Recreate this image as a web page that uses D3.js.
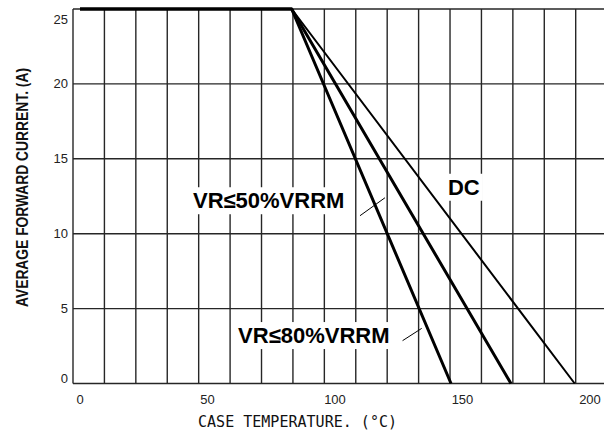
<!DOCTYPE html>
<html lang="en">
<head>
  <meta charset="UTF-8">
  <title>Derating curve</title>
  <style>
    body { margin: 0; background: #fff; }
  </style>
</head>
<body>
  <svg width="604" height="432" id="chart"></svg>
  <script src="https://cdn.jsdelivr.net/npm/d3@7"></script>
  <script>
    // case temperature (°C) / average forward current (A)
    const tempsVR80 = [0, 83, 145.5];
    const ampsVR80 = [25, 25, 0];
    const tempsVR50 = [0, 83, 169];
    const ampsVR50 = [25, 25, 0];
    const tempsDC = [0, 83, 194];
    const ampsDC = [25, 25, 0];

    const xTicks = [0, 50, 100, 150, 200];
    const yTicks = [0, 5, 10, 15, 20, 25];

    const labelNames = ['VR≤50%VRRM', 'VR≤80%VRRM', 'DC'];
    const labelTemps = [44.3, 62, 144.3];
    const labelAmps = [11.7, 2.7, 12.6];

    // leader lines: [temp1, amp1, temp2, amp2]
    const leaders = [
      [109.8, 11.2, 119.6, 12.4],
      [126.5, 2.86, 134, 3.68]
    ];

    let svg = d3.select('#chart');
    let width = +svg.attr('width');
    let height = +svg.attr('height');
    let left = 73;

    let x = d3.scaleLinear().domain([0, 200]).range([80, 590]);
    let y = d3.scaleLinear().domain([0, 25]).range([383.5, 9]);
    // the printed grid does not line up with the tick labels
    let gridX = d3.scaleLinear().domain([0, 16]).range([73, 575.7]);

    svg.append('rect').attr('width', width).attr('height', height).attr('fill', '#fff');

    let grid = svg.append('g').attr('stroke', '#262626').attr('stroke-width', 1.4);
    grid.selectAll('.v').data(d3.range(0, 17)).join('line')
        .attr('class', 'v')
        .attr('x1', d => gridX(d)).attr('x2', d => gridX(d))
        .attr('y1', y(25)).attr('y2', y(0));
    grid.selectAll('.h').data(yTicks).join('line')
        .attr('class', 'h')
        .attr('x1', left).attr('x2', width)
        .attr('y1', d => y(d)).attr('y2', d => y(d));

    // labels with white boxes that break the grid
    let labels = svg.append('g');
    labelNames.forEach((name, i) => {
      let g = labels.append('g');
      let t = g.append('text')
          .attr('x', x(labelTemps[i]))
          .attr('y', y(labelAmps[i]))
          .attr('font-family', 'Liberation Sans, Arial, sans-serif')
          .attr('font-weight', 'bold')
          .attr('font-size', 22)
          .attr('fill', '#000')
          .text(name);
      let bb = t.node().getBBox();
      g.insert('rect', 'text')
          .attr('x', bb.x - 3).attr('y', bb.y - 1)
          .attr('width', bb.width + 6).attr('height', bb.height + 2)
          .attr('fill', '#fff');
    });

    svg.selectAll('.leader').data(leaders).join('line')
        .attr('class', 'leader')
        .attr('x1', d => x(d[0])).attr('y1', d => y(d[1]))
        .attr('x2', d => x(d[2])).attr('y2', d => y(d[3]))
        .attr('stroke', '#000').attr('stroke-width', 1);

    let line = d3.line().x(d => x(d[0])).y(d => y(d[1]));
    let series = [
      {t: tempsDC, a: ampsDC, w: 2},
      {t: tempsVR50, a: ampsVR50, w: 3},
      {t: tempsVR80, a: ampsVR80, w: 3}
    ];
    svg.selectAll('.curve').data(series).join('path')
        .attr('class', 'curve')
        .attr('d', s => line(d3.zip(s.t, s.a)))
        .attr('fill', 'none')
        .attr('stroke', '#000')
        .attr('stroke-width', s => s.w)
        .attr('stroke-linejoin', 'round');

    // tick labels
    svg.selectAll('.xt').data(xTicks).join('text')
        .attr('class', 'xt')
        .attr('x', d => x(d)).attr('y', 404)
        .attr('text-anchor', 'middle')
        .attr('font-family', 'Liberation Sans, Arial, sans-serif')
        .attr('font-size', 13)
        .attr('fill', '#222')
        .text(d => d);

    svg.selectAll('.yt').data(yTicks).join('text')
        .attr('class', 'yt')
        .attr('x', 68)
        .attr('y', d => Math.min(Math.max(y(d), y(25) + 10), y(0) - 5.5))
        .attr('dy', '0.35em')
        .attr('text-anchor', 'end')
        .attr('font-family', 'Liberation Sans, Arial, sans-serif')
        .attr('font-size', 13)
        .attr('fill', '#222')
        .text(d => d);

    // axis titles
    svg.append('text')
        .attr('x', 198).attr('y', 427)
        .attr('font-family', 'DejaVu Sans Mono, monospace')
        .attr('font-size', 15)
        .attr('textLength', 199)
        .attr('fill', '#111')
        .text('CASE TEMPERATURE. (°C)');

    svg.append('text')
        .attr('transform', 'translate(27.5,187.5) rotate(-90)')
        .attr('text-anchor', 'middle')
        .attr('font-family', 'Liberation Sans, Arial, sans-serif')
        .attr('font-weight', 'bold')
        .attr('font-size', 17)
        .attr('textLength', 239)
        .attr('lengthAdjust', 'spacingAndGlyphs')
        .attr('fill', '#111')
        .text('AVERAGE FORWARD CURRENT. (A)');
  </script>
</body>
</html>
